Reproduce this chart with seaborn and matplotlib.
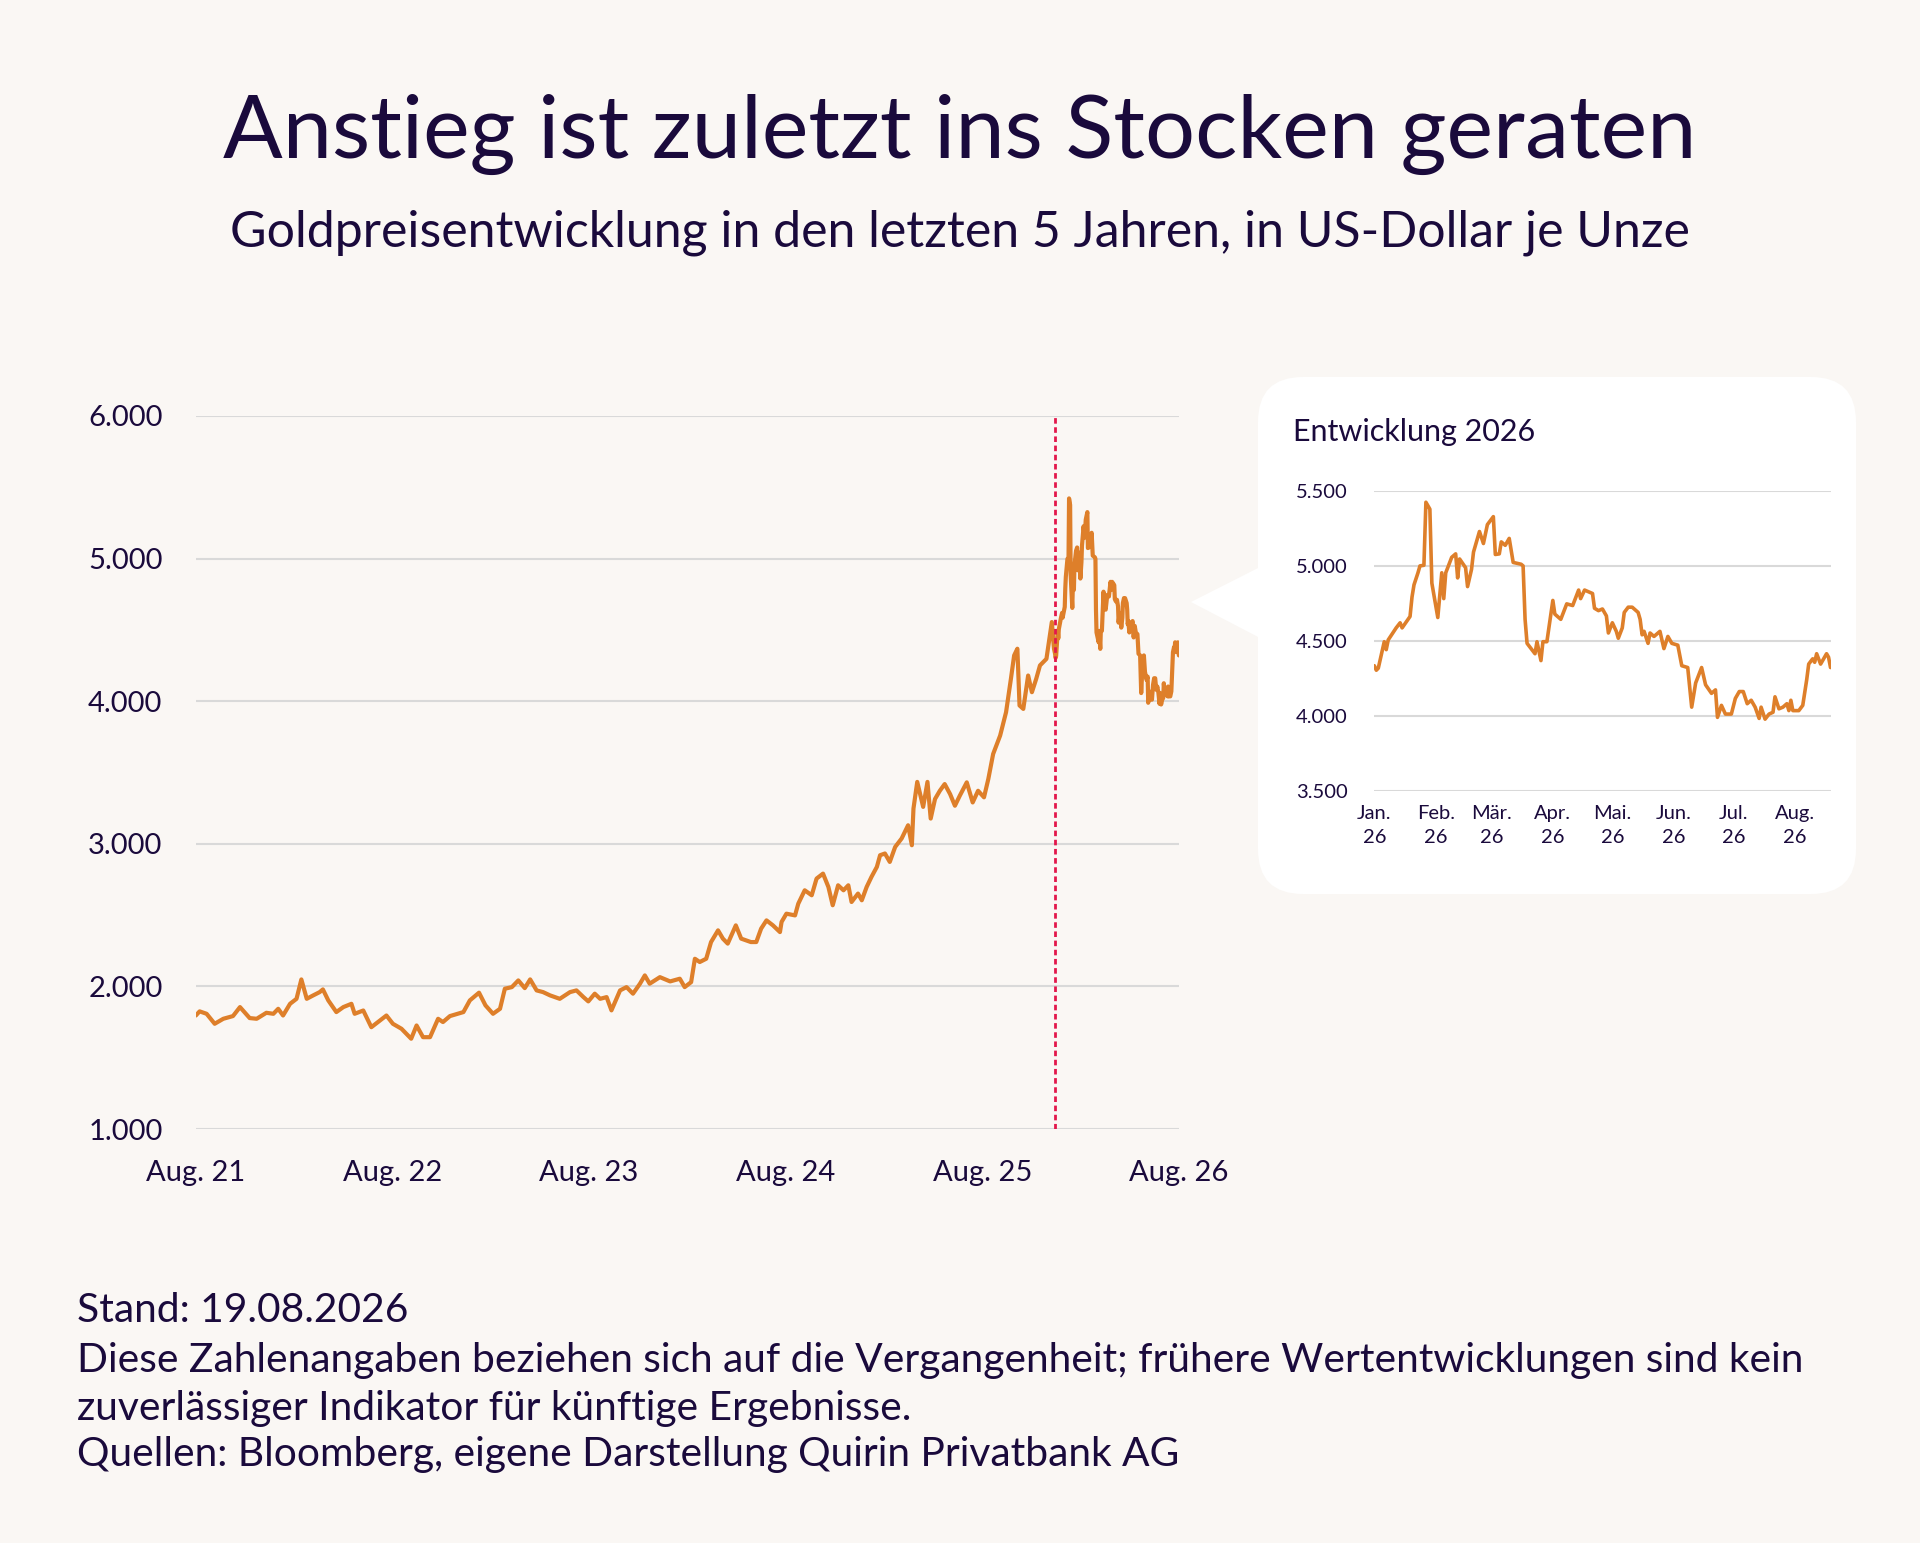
import pandas as pd
import seaborn as sns
import matplotlib.pyplot as plt
from matplotlib.patches import FancyBboxPatch, Polygon

# Goldpreis in USD je Unze
hist_dates = [
    '2021-08-19', '2021-08-26', '2021-09-08', '2021-09-23', '2021-10-09', '2021-10-27',
    '2021-11-09', '2021-11-27', '2021-12-10', '2021-12-28', '2022-01-10', '2022-01-19',
    '2022-01-28', '2022-02-10', '2022-02-22', '2022-03-03', '2022-03-13', '2022-03-25',
    '2022-04-06', '2022-04-12', '2022-04-22', '2022-05-07', '2022-05-20', '2022-06-04',
    '2022-06-10', '2022-06-26', '2022-07-11', '2022-07-27', '2022-08-08', '2022-08-20',
    '2022-09-05', '2022-09-23', '2022-10-03', '2022-10-15', '2022-10-28', '2022-11-12',
    '2022-11-21', '2022-12-04', '2022-12-29', '2023-01-10', '2023-01-27', '2023-02-08',
    '2023-02-22', '2023-03-07', '2023-03-16', '2023-03-29', '2023-04-10', '2023-04-22',
    '2023-05-02', '2023-05-14', '2023-05-26', '2023-06-08', '2023-06-26', '2023-07-15',
    '2023-07-27', '2023-08-09', '2023-08-18', '2023-08-30', '2023-09-09', '2023-09-21',
    '2023-09-30', '2023-10-16', '2023-10-28', '2023-11-09', '2023-11-22', '2023-12-01',
    '2023-12-10', '2023-12-29', '2024-01-17', '2024-02-04', '2024-02-13', '2024-02-25',
    '2024-03-03', '2024-03-12', '2024-03-24', '2024-04-02', '2024-04-15', '2024-04-24',
    '2024-05-03', '2024-05-18', '2024-05-28', '2024-06-06', '2024-06-15', '2024-06-25',
    '2024-07-04', '2024-07-14', '2024-07-26', '2024-08-08', '2024-08-11', '2024-08-20',
    '2024-09-05', '2024-09-11', '2024-09-23', '2024-10-06', '2024-10-15', '2024-10-27',
    '2024-11-06', '2024-11-14', '2024-11-24', '2024-12-04', '2024-12-13', '2024-12-19',
    '2024-12-31', '2025-01-07', '2025-01-16', '2025-01-25', '2025-02-04', '2025-02-10',
    '2025-02-19', '2025-02-28', '2025-03-10', '2025-03-22', '2025-04-03', '2025-04-10',
    '2025-04-13', '2025-04-20', '2025-05-01', '2025-05-09', '2025-05-15', '2025-05-23',
    '2025-06-01', '2025-06-10', '2025-06-20', '2025-06-29', '2025-07-08', '2025-07-21',
    '2025-08-01', '2025-08-11', '2025-08-22', '2025-08-30', '2025-09-08', '2025-09-21',
    '2025-10-02', '2025-10-11', '2025-10-17', '2025-10-23', '2025-10-27', '2025-11-03',
    '2025-11-12', '2025-11-19', '2025-11-27', '2025-12-04', '2025-12-16', '2025-12-26',
    '2025-12-30',
]
hist_values = [
    1796, 1825, 1808, 1738, 1773, 1792,
    1855, 1778, 1773, 1815, 1808, 1843,
    1796, 1878, 1913, 2049, 1913, 1937,
    1960, 1979, 1902, 1820, 1855, 1878,
    1808, 1831, 1714, 1761, 1796, 1738,
    1703, 1633, 1726, 1644, 1644, 1773,
    1750, 1792, 1820, 1902, 1956, 1867,
    1808, 1843, 1984, 1995, 2042, 1988,
    2049, 1972, 1960, 1937, 1913, 1960,
    1972, 1925, 1895, 1949, 1913, 1925,
    1832, 1972, 1995, 1949, 2019, 2077,
    2019, 2065, 2035, 2054, 1995, 2030,
    2194, 2171, 2194, 2311, 2393, 2335,
    2300, 2428, 2335, 2323, 2311, 2311,
    2405, 2463, 2428, 2381, 2452, 2510,
    2498, 2580, 2674, 2639, 2756, 2791,
    2697, 2569, 2709, 2674, 2709, 2592,
    2651, 2604, 2697, 2768, 2838, 2920,
    2932, 2873, 2978, 3037, 3130, 2990,
    3247, 3434, 3259, 3434, 3177, 3314,
    3372, 3419, 3349, 3267, 3337, 3431,
    3290, 3372, 3326, 3454, 3630, 3759,
    3923, 4157, 4321, 4368, 3970, 3946,
    4180, 4063, 4157, 4251, 4297, 4555,
    4368,
]

# Entwicklung 2026 (Detailgrafik)
ytd_dates = [
    '2026-01-01', '2026-01-02', '2026-01-03', '2026-01-06', '2026-01-07', '2026-01-08',
    '2026-01-12', '2026-01-14', '2026-01-15', '2026-01-19', '2026-01-20', '2026-01-21',
    '2026-01-23', '2026-01-24', '2026-01-26', '2026-01-27', '2026-01-29', '2026-01-30',
    '2026-02-02', '2026-02-04', '2026-02-05', '2026-02-06', '2026-02-07', '2026-02-09',
    '2026-02-11', '2026-02-12', '2026-02-13', '2026-02-16', '2026-02-17', '2026-02-19',
    '2026-02-20', '2026-02-23', '2026-02-25', '2026-02-27', '2026-03-02', '2026-03-03',
    '2026-03-05', '2026-03-06', '2026-03-08', '2026-03-10', '2026-03-12', '2026-03-16',
    '2026-03-17', '2026-03-18', '2026-03-19', '2026-03-23', '2026-03-24', '2026-03-26',
    '2026-03-27', '2026-03-29', '2026-04-01', '2026-04-02', '2026-04-05', '2026-04-08',
    '2026-04-11', '2026-04-14', '2026-04-15', '2026-04-17', '2026-04-21', '2026-04-22',
    '2026-04-24', '2026-04-26', '2026-04-28', '2026-04-29', '2026-05-01', '2026-05-03',
    '2026-05-04', '2026-05-06', '2026-05-07', '2026-05-09', '2026-05-11', '2026-05-14',
    '2026-05-15', '2026-05-16', '2026-05-17', '2026-05-19', '2026-05-20', '2026-05-22',
    '2026-05-25', '2026-05-27', '2026-05-29', '2026-05-31', '2026-06-03', '2026-06-05',
    '2026-06-08', '2026-06-10', '2026-06-12', '2026-06-15', '2026-06-17', '2026-06-20',
    '2026-06-22', '2026-06-23', '2026-06-25', '2026-06-27', '2026-06-30', '2026-07-02',
    '2026-07-04', '2026-07-06', '2026-07-08', '2026-07-10', '2026-07-12', '2026-07-14',
    '2026-07-15', '2026-07-17', '2026-07-19', '2026-07-21', '2026-07-22', '2026-07-24',
    '2026-07-26', '2026-07-28', '2026-07-29', '2026-07-30', '2026-07-31', '2026-08-03',
    '2026-08-05', '2026-08-07', '2026-08-08', '2026-08-10', '2026-08-11', '2026-08-12',
    '2026-08-14', '2026-08-17', '2026-08-18', '2026-08-19',
]
ytd_values = [
    4333, 4303, 4317, 4493, 4440, 4505,
    4585, 4619, 4585, 4661, 4791, 4872,
    4952, 4998, 5002, 5422, 5376, 4883,
    4654, 4952, 4780, 4952, 4986, 5055,
    5078, 4918, 5044, 4986, 4860, 4975,
    5090, 5227, 5147, 5273, 5326, 5074,
    5078, 5158, 5135, 5181, 5021, 5009,
    4998, 4642, 4482, 4413, 4493, 4367,
    4493, 4493, 4768, 4677, 4642, 4745,
    4734, 4837, 4780, 4837, 4814, 4716,
    4700, 4711, 4665, 4551, 4619, 4562,
    4516, 4585, 4688, 4723, 4723, 4688,
    4642, 4539, 4562, 4482, 4551, 4528,
    4562, 4447, 4528, 4482, 4470, 4333,
    4321, 4057, 4218, 4321, 4206, 4149,
    4172, 3989, 4069, 4011, 4011, 4115,
    4161, 4161, 4080, 4103, 4057, 3982,
    4057, 3977, 4011, 4023, 4126, 4046,
    4057, 4080, 4034, 4103, 4034, 4034,
    4069, 4241, 4344, 4379, 4356, 4413,
    4344, 4413, 4390, 4321,
]

main_xticks = ['2021-08-19', '2022-08-19', '2023-08-19', '2024-08-19', '2025-08-19', '2026-08-19']
main_xtick_labels = ['Aug. 21', 'Aug. 22', 'Aug. 23', 'Aug. 24', 'Aug. 25', 'Aug. 26']
main_yticks = [1000, 2000, 3000, 4000, 5000, 6000]
main_ytick_labels = ['1.000', '2.000', '3.000', '4.000', '5.000', '6.000']
inset_xticks = ['2026-01-01', '2026-02-01', '2026-03-01', '2026-04-01',
                '2026-05-01', '2026-06-01', '2026-07-01', '2026-08-01']
inset_xtick_labels = ['Jan.\n26', 'Feb.\n26', 'Mär.\n26', 'Apr.\n26',
                      'Mai.\n26', 'Jun.\n26', 'Jul.\n26', 'Aug.\n26']
inset_yticks = [3500, 4000, 4500, 5000, 5500]
inset_ytick_labels = ['3.500', '4.000', '4.500', '5.000', '5.500']
cutoff = '2026-01-01'

title = 'Anstieg ist zuletzt ins Stocken geraten'
subtitle = 'Goldpreisentwicklung in den letzten 5 Jahren, in US-Dollar je Unze'
footer = [
    'Stand: 19.08.2026',
    'Diese Zahlenangaben beziehen sich auf die Vergangenheit; frühere Wertentwicklungen sind kein',
    'zuverlässiger Indikator für künftige Ergebnisse.',
    'Quellen: Bloomberg, eigene Darstellung Quirin Privatbank AG',
]

BG = '#FAF7F4'
NAVY = '#1A0A3C'
GOLD = '#DE7F2A'
RED = '#E3174B'
GRID = '#D9D9D9'

sns.set_style('white')
plt.rcParams['font.family'] = ['Lato', 'DejaVu Sans']

df_main = pd.DataFrame({'datum': pd.to_datetime(hist_dates + ytd_dates),
                        'preis': hist_values + ytd_values})
df_ytd = pd.DataFrame({'datum': pd.to_datetime(ytd_dates), 'preis': ytd_values})

fig = plt.figure(figsize=(19.2, 15.43), dpi=100, facecolor=BG)

# Hintergrund-Achse in Pixelkoordinaten (Box, Pfeil, Texte)
bg = fig.add_axes([0, 0, 1, 1], zorder=0)
bg.set_xlim(0, 1920)
bg.set_ylim(1543, 0)
bg.axis('off')
bg.add_patch(FancyBboxPatch((1258, 377), 598, 517, boxstyle='round,pad=0,rounding_size=45',
                            fc='white', ec='none'))
bg.add_patch(Polygon([(1191, 602), (1262, 566), (1262, 639)], closed=True, fc='white', ec='none'))

bg.text(960, 158, title, ha='center', va='baseline', fontsize=63.5, color=NAVY)
bg.text(960, 247, subtitle, ha='center', va='baseline', fontsize=36, color=NAVY)
bg.text(1293, 441, 'Entwicklung 2026', ha='left', va='baseline', fontsize=22, color=NAVY)
for i, line in enumerate(footer):
    bg.text(77, [1322, 1372, 1420, 1466][i], line, ha='left', va='baseline',
            fontsize=29.3, color=NAVY)


def style_axis(ax, size, padx, pady):
    ax.set_facecolor('none')
    for s in ax.spines.values():
        s.set_visible(False)
    ax.grid(axis='y', color=GRID, lw=1.5)
    ax.grid(axis='x', visible=False)
    ax.set_axisbelow(True)
    ax.set_xlabel('')
    ax.set_ylabel('')
    ax.tick_params(axis='x', length=0, pad=padx, labelsize=size, labelcolor=NAVY)
    ax.tick_params(axis='y', length=0, pad=pady, labelsize=size, labelcolor=NAVY)


# Hauptgrafik
ax = fig.add_axes([0.102, 0.2683, 0.512, 0.4621], zorder=2)
sns.lineplot(data=df_main, x='datum', y='preis', ax=ax, color=GOLD, lw=3)
ax.axvline(pd.Timestamp(cutoff), color=RED, lw=2, ls=(0, (2, 1.3)), zorder=3)
ax.set_xlim(pd.Timestamp(main_xticks[0]), pd.Timestamp(main_xticks[-1]))
ax.set_ylim(1000, 6000)
ax.set_xticks(pd.to_datetime(main_xticks))
ax.set_xticklabels(main_xtick_labels)
ax.set_yticks(main_yticks)
ax.set_yticklabels(main_ytick_labels)
style_axis(ax, 21, 22, 24)

# Detailgrafik 2026
ax2 = fig.add_axes([0.7158, 0.4875, 0.2376, 0.1946], zorder=2)
sns.lineplot(data=df_ytd, x='datum', y='preis', ax=ax2, color=GOLD, lw=2.6)
ax2.set_xlim(pd.Timestamp(ytd_dates[0]), pd.Timestamp(ytd_dates[-1]))
ax2.set_ylim(3500, 5500)
ax2.set_xticks(pd.to_datetime(inset_xticks))
ax2.set_xticklabels(inset_xtick_labels, linespacing=1.5)
ax2.set_yticks(inset_yticks)
ax2.set_yticklabels(inset_ytick_labels)
style_axis(ax2, 14.5, 10, 19)

fig.savefig('out.png', dpi=100, facecolor=BG)
